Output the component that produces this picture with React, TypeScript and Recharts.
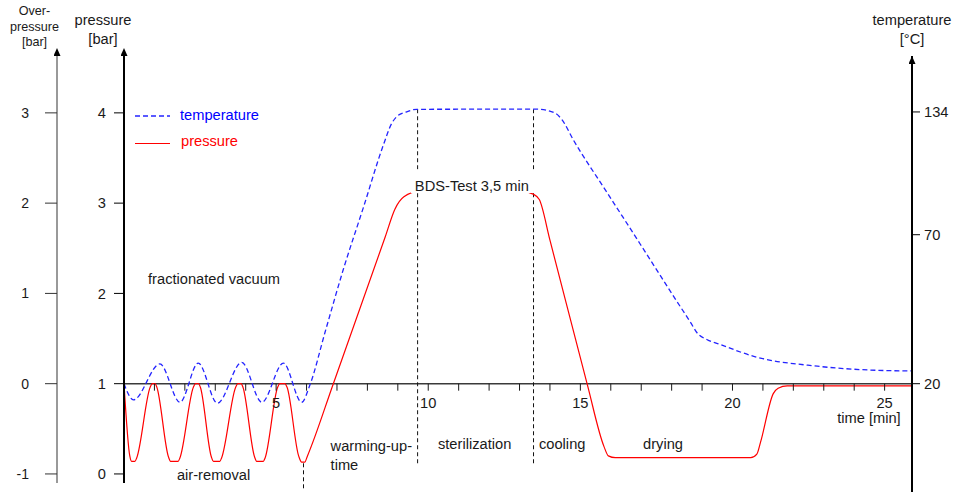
import React from "react";
import { ComposedChart, Line, XAxis, YAxis, ReferenceLine } from "recharts";

// pressure curve (bar absolute)
const pressureTimes = [
  0, 0.19, 0.25, 0.36, 0.42, 0.86, 0.93, 1.02, 1.08,
  1.46, 1.53, 1.78, 1.84, 2.28, 2.35, 2.45, 2.51,
  2.87, 2.94, 3.15, 3.21, 3.67, 3.74, 3.85, 3.91,
  4.29, 4.36, 4.58, 4.64, 5.05, 5.12, 5.29, 5.36,
  5.74, 5.84, 5.94, 6.03, 6.88, 8.59, 8.9, 9.2, 9.7,
  13.1, 13.45, 13.65, 14.0, 15.22, 15.78, 15.92, 16.15,
  20.6, 20.8, 20.92, 21.34, 21.5, 21.8, 25.9,
];
const pressureValues = [
  1.0, 0.2, 0.14, 0.14, 0.18, 0.96, 1.0, 1.0, 0.96,
  0.19, 0.14, 0.14, 0.18, 0.96, 1.0, 1.0, 0.96,
  0.19, 0.14, 0.14, 0.18, 0.96, 1.0, 1.0, 0.96,
  0.19, 0.14, 0.14, 0.18, 0.96, 1.0, 1.0, 0.96,
  0.2, 0.13, 0.13, 0.2, 1.0, 2.63, 2.93, 3.07, 3.13,
  3.13, 3.1, 3.04, 2.59, 1.0, 0.3, 0.2, 0.18,
  0.18, 0.22, 0.35, 0.89, 0.95, 0.975, 0.975,
];

// chamber temperature (°C)
const tempTimes = [
  0, 0.31, 1.18, 1.84, 2.44, 3.07, 3.87, 4.53, 5.24, 5.84,
  6.11, 6.61, 7.21, 7.87, 8.52, 8.8, 8.96, 9.29, 9.62, 13.6,
  14.18, 14.4, 14.77, 15.88, 16.97, 18.06, 18.62, 18.84, 19.17, 19.6,
  20.7, 22.79, 24.98, 25.9,
];
const tempValues = [
  20, 16.4, 24.9, 15.9, 25.1, 15.7, 25.3, 15.9, 25.1, 15.9,
  19.7, 33.9, 55.7, 82.5, 114.5, 127.2, 131.1, 134.1, 135.6, 135.7,
  133.2, 129.2, 117.6, 89.6, 65.9, 45.7, 36.9, 33.6, 31.6, 30.2,
  26.9, 24.3, 23.2, 23.1,
];

const minuteTicks = Array.from({ length: 25 }, (_, i) => i + 1);
const pressureTicks = [0, 1, 2, 3, 4];
const overPressureTicks = [-1, 0, 1, 2, 3];
const tempTicks = [20, 70, 134];

// dashed phase separators: time, top / bottom in bar
const phaseTimes = [5.9, 9.65, 13.46];
const phaseTop = [0.118, 4.04, 4.04];
const phaseBottom = [-0.19, 0.088, 0.1];

const pressureData = pressureTimes.map((t, i) => ({ t, v: pressureValues[i] }));
const tempData = tempTimes.map((t, i) => ({ t, v: tempValues[i] }));

const W = 953;
const H = 493;
const MARGIN = { top: 56, right: 0, bottom: 0, left: 0 };
const OVER_W = 57;
const PRESS_W = 67;
const TEMP_W = 41;
const X_DOMAIN: [number, number] = [0, 25.9];
const P_DOMAIN: [number, number] = [-0.2, 4.63];
const OVER_DOMAIN: [number, number] = [-1.2, 3.63];
const T_DOMAIN: [number, number] = [2.693, 170];

const PLOT_LEFT = MARGIN.left + OVER_W + PRESS_W;
const PLOT_RIGHT = W - MARGIN.right - TEMP_W;
const PLOT_TOP = MARGIN.top;
const PLOT_BOTTOM = H - MARGIN.bottom - 1;

const xPx = (t: number) =>
  PLOT_LEFT + ((t - X_DOMAIN[0]) / (X_DOMAIN[1] - X_DOMAIN[0])) * (PLOT_RIGHT - PLOT_LEFT);
const yPx = (p: number) =>
  PLOT_TOP + ((P_DOMAIN[1] - p) / (P_DOMAIN[1] - P_DOMAIN[0])) * (PLOT_BOTTOM - PLOT_TOP);

const FONT = '"Liberation Sans", Arial, sans-serif';
const BLUE = "#2424ff";
const RED = "#ff0000";
const INK = "#1a1a1a";

// phase labels, anchored in (minutes, bar)
const notes = [
  { t: 0.79, p: 2.1, text: "fractionated vacuum" },
  { t: 1.74, p: -0.067, text: "air-removal" },
  { t: 6.79, p: 0.254, text: "warming-up-" },
  { t: 6.79, p: 0.044, text: "time" },
  { t: 10.32, p: 0.276, text: "sterilization" },
  { t: 13.64, p: 0.276, text: "cooling" },
  { t: 17.06, p: 0.276, text: "drying" },
  { t: 23.44, p: 0.564, text: "time [min]" },
];

function TimeTick(props: any) {
  const { x, payload } = props;
  const y0 = yPx(1);
  return (
    <g>
      <line x1={x} x2={x} y1={y0} y2={y0 + 7} stroke={INK} strokeWidth={1} />
      {payload.value % 5 === 0 && (
        <text x={x} y={y0 + 24.5} textAnchor="middle" fontSize={14.67} fill={INK}>
          {payload.value}
        </text>
      )}
    </g>
  );
}

function Overlay() {
  const bdsX = xPx(9.56);
  const bdsY = yPx(3.14);
  return (
    <svg
      width={W}
      height={H}
      style={{ position: "absolute", left: 0, top: 0, pointerEvents: "none" }}
      fontFamily={FONT}
    >
      <defs>
        <marker id="arrowOut" viewBox="0 0 8 7" refX="0" refY="3.5" markerWidth="8" markerHeight="7"
          markerUnits="userSpaceOnUse" orient="auto-start-reverse">
          <path d="M0,0 L8,3.5 L0,7 z" fill="#000" />
        </marker>
        <marker id="arrowIn" viewBox="0 0 8 7" refX="8" refY="3.5" markerWidth="8" markerHeight="7"
          markerUnits="userSpaceOnUse" orient="auto-start-reverse">
          <path d="M0,0 L8,3.5 L0,7 z" fill="#000" />
        </marker>
      </defs>

      {/* axis titles */}
      <g fill={INK} textAnchor="middle">
        <text x={34.5} y={15} fontSize={12.6}>Over-</text>
        <text x={34.5} y={30.5} fontSize={12.6}>pressure</text>
        <text x={34.5} y={46} fontSize={12.6}>[bar]</text>
        <text x={103} y={25} fontSize={14.67}>pressure</text>
        <text x={103} y={44} fontSize={14.67}>[bar]</text>
        <text x={912} y={25} fontSize={14.67}>temperature</text>
        <text x={912} y={44} fontSize={14.67}>[°C]</text>
      </g>

      {/* legend */}
      <line x1={135} x2={170} y1={116} y2={116} stroke={BLUE} strokeWidth={1.3} strokeDasharray="5 3" />
      <text x={180} y={119.5} fontSize={14.67} fill="#0000ff">temperature</text>
      <line x1={135} x2={170} y1={143.5} y2={143.5} stroke={RED} strokeWidth={1.2} />
      <text x={181} y={146} fontSize={14.67} fill={RED}>pressure</text>

      {/* phase labels */}
      {notes.map((n) => (
        <text key={n.text} x={xPx(n.t)} y={yPx(n.p)} fontSize={14.67} fill={INK}>
          {n.text}
        </text>
      ))}

      <rect x={bdsX - 4} y={bdsY - 21} width={126} height={23.5} fill="#fff" />
      <text x={bdsX} y={bdsY} fontSize={14.67} fill={INK}>BDS-Test 3,5 min</text>
    </svg>
  );
}

export default function App() {
  return (
    <div style={{ position: "absolute", left: 0, top: 0, width: W, height: H, fontFamily: FONT, background: "#fff" }}>
      <ComposedChart width={W} height={H} margin={MARGIN}>
        <XAxis
          type="number"
          dataKey="t"
          domain={X_DOMAIN}
          ticks={minuteTicks}
          interval={0}
          allowDataOverflow
          axisLine={false}
          tickLine={false}
          tick={<TimeTick />}
          height={1}
        />
        <YAxis
          yAxisId="b_over"
          orientation="left"
          width={OVER_W}
          domain={OVER_DOMAIN}
          ticks={overPressureTicks}
          allowDataOverflow
          axisLine={{ stroke: "#555", strokeWidth: 1.2, strokeDasharray: "427 40", markerStart: "url(#arrowOut)" }}
          tickLine={{ stroke: "#333" }}
          tickSize={12}
          tickMargin={16}
          tick={{ fill: INK, fontSize: 14 }}
        />
        <YAxis
          yAxisId="a_press"
          orientation="left"
          width={PRESS_W}
          domain={P_DOMAIN}
          ticks={pressureTicks}
          allowDataOverflow
          axisLine={{ stroke: "#000", strokeWidth: 2, strokeDasharray: "427 40", markerStart: "url(#arrowOut)" }}
          tickLine={{ stroke: "#000" }}
          tickSize={10}
          tickMargin={8}
          tick={{ fill: INK, fontSize: 14.67 }}
        />
        <YAxis
          yAxisId="temp"
          orientation="right"
          width={TEMP_W}
          scale="sqrt"
          domain={T_DOMAIN}
          ticks={tempTicks}
          allowDataOverflow
          axisLine={{ stroke: "#000", strokeWidth: 2, markerStart: "url(#arrowIn)" }}
          tickLine={{ stroke: "#000" }}
          tickSize={8}
          tickMargin={4}
          tick={{ fill: INK, fontSize: 14.67 }}
        />

        <ReferenceLine yAxisId="a_press" y={1} stroke="#3a3a3a" strokeWidth={1.6} />
        {phaseTimes.map((t, i) => (
          <ReferenceLine
            key={t}
            yAxisId="a_press"
            segment={[{ x: t, y: phaseTop[i] }, { x: t, y: phaseBottom[i] }]}
            stroke="#111"
            strokeDasharray="4 3"
          />
        ))}

        <Line
          yAxisId="temp"
          data={tempData}
          dataKey="v"
          type="monotone"
          stroke={BLUE}
          strokeWidth={1.3}
          strokeDasharray="5 3"
          dot={false}
          activeDot={false}
          isAnimationActive={false}
        />
        <Line
          yAxisId="a_press"
          data={pressureData}
          dataKey="v"
          type="monotone"
          stroke={RED}
          strokeWidth={1.2}
          dot={false}
          activeDot={false}
          isAnimationActive={false}
        />
      </ComposedChart>
      <Overlay />
    </div>
  );
}
